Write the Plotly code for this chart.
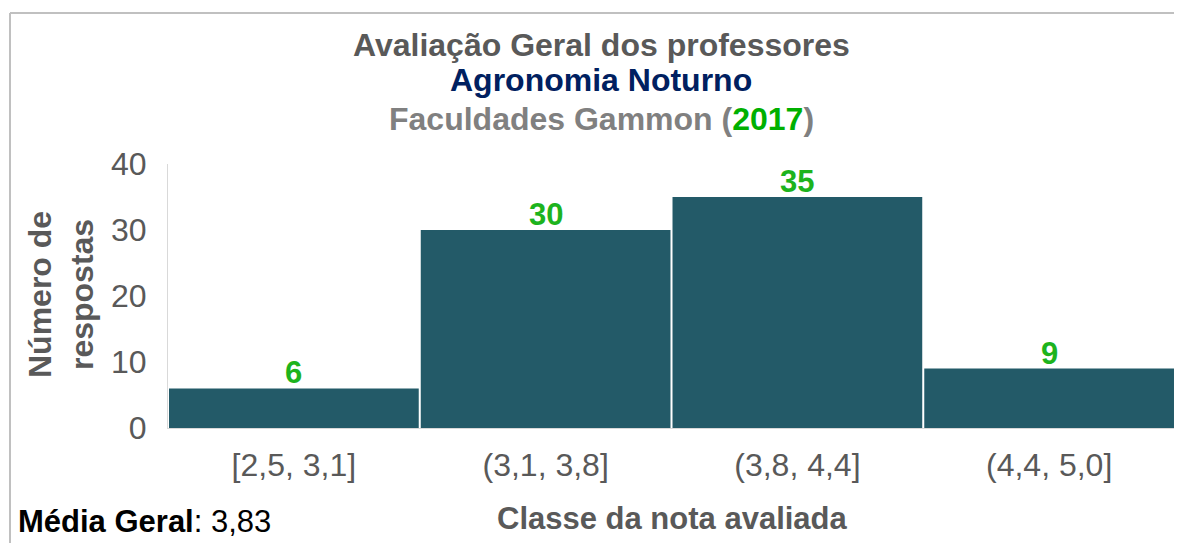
import plotly.graph_objects as go

categories = ["[2,5, 3,1]", "(3,1, 3,8]", "(3,8, 4,4]", "(4,4, 5,0]"]
counts = [6, 30, 35, 9]
y_ticks = [0, 10, 20, 30, 40]

# page body has an 8px margin, so the figure is drawn 8px in from the window edge
OFF = 8
W, H = 1182 - OFF, 543 - OFF
# plot area in reference pixels: x 168..1175, y 164..428
L = 168 - OFF
R = W - (1175 - OFF)
T = 164 - OFF
B = H - (428 - OFF)
FONT = "Liberation Sans, Arial, sans-serif"

fig = go.Figure()
fig.add_trace(go.Bar(
    x=categories, y=counts,
    marker=dict(color="#235A68", line=dict(width=0)),
    hoverinfo="skip",
))

# value labels placed through the data axes
for cat, v in zip(categories, counts):
    fig.add_annotation(x=cat, y=v, xref="x", yref="y", text=f"<b>{v}</b>",
                       showarrow=False, xanchor="center", yanchor="bottom", yshift=-4,
                       font=dict(family=FONT, size=31, color="#1DB31D"))

fig.update_layout(
    width=W, height=H,
    margin=dict(l=L, r=R, t=T, b=B, pad=0),
    paper_bgcolor="white", plot_bgcolor="white",
    bargap=0.008, showlegend=False,
    font=dict(family=FONT, color="#595959"),
    xaxis=dict(showgrid=False, showline=True, linecolor="#D9D9D9", linewidth=1,
               ticks="", tickfont=dict(size=32, color="#595959"), ticklabelstandoff=9),
    yaxis=dict(range=[0, 40], tickvals=y_ticks, showgrid=False, showline=True,
               linecolor="#D9D9D9", linewidth=1, ticks="", zeroline=False,
               tickfont=dict(size=32, color="#595959"), ticklabelstandoff=14),
)

def px2x(px):
    px -= OFF
    return (px - L) / (W - L - R)

def py2y(py):
    py -= OFF
    return (H - B - py) / (H - T - B)

anns = [
    ("<b>Avaliação Geral dos professores</b>", 601, 45, "#595959", 32),
    ("<b>Agronomia Noturno</b>", 601, 80, "#002060", 32),
    ("<b>Faculdades Gammon (<span style='color:#00B000'>2017</span>)</b>", 601, 119, "#808080", 32),
    ("<b>Classe da nota avaliada</b>", 672, 518, "#595959", 31),
]
for txt, x, y, c, s in anns:
    fig.add_annotation(text=txt, x=px2x(x), y=py2y(y), xref="paper", yref="paper",
                       showarrow=False, xanchor="center", yanchor="middle",
                       font=dict(family=FONT, size=s, color=c))

fig.add_annotation(text="<b>Número de<br>respostas</b>", x=px2x(61), y=py2y(295),
                   xref="paper", yref="paper", showarrow=False, textangle=-90,
                   xanchor="center", yanchor="middle",
                   font=dict(family=FONT, size=32, color="#595959"))

fig.add_annotation(text="<b>Média Geral</b>: 3,83", x=px2x(16), y=py2y(521),
                   xref="paper", yref="paper", showarrow=False,
                   xanchor="left", yanchor="middle",
                   font=dict(family=FONT, size=31, color="#000000"))

# frame lines
fig.add_shape(type="line", xref="paper", yref="paper",
              x0=px2x(10), x1=px2x(1190), y0=py2y(13), y1=py2y(13),
              line=dict(color="#C0C0C0", width=2))
fig.add_shape(type="line", xref="paper", yref="paper",
              x0=px2x(10), x1=px2x(10), y0=py2y(13), y1=py2y(550),
              line=dict(color="#C0C0C0", width=2))

fig.write_html("out.html")
